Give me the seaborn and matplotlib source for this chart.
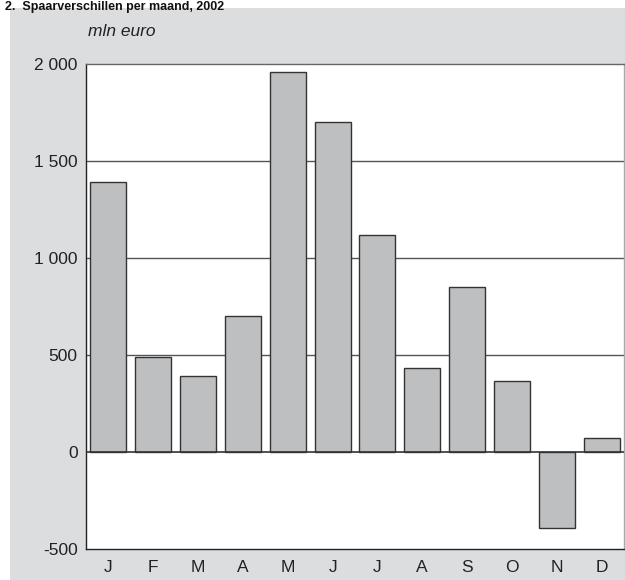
import matplotlib
matplotlib.use("Agg")
import matplotlib.pyplot as plt
import seaborn as sns
import pandas as pd
from matplotlib.patches import Rectangle

months = ["J", "F", "M", "A", "M", "J", "J", "A", "S", "O", "N", "D"]
values = [1390, 490, 390, 700, 1960, 1700, 1120, 435, 850, 365, -390, 70]
yticks = [-500, 0, 500, 1000, 1500, 2000]
ytick_labels = ["-500", "0", "500", "1 000", "1 500", "2 000"]

sns.set_theme(style="white")
plt.rcParams['font.family'] = ['Liberation Sans', 'DejaVu Sans']

df = pd.DataFrame({"pos": [str(i) for i in range(len(months))], "value": values})

fig = plt.figure(figsize=(6.25, 5.8), dpi=100)
fig.patch.set_facecolor("white")
# gray panel
panel = Rectangle((10/625, 0), 1 - 10/625, 1 - 8/580, transform=fig.transFigure,
                  facecolor="#DCDDDF", edgecolor="none", zorder=-10)
fig.patches.append(panel)

ax = fig.add_axes([86/625, 1 - 549/580, (624-86)/625, (549-64)/580])
ax.set_zorder(1)
ax.set_facecolor("white")
sns.barplot(data=df, x="pos", y="value", color="#BEBFC1", edgecolor="#333333",
            linewidth=1.0, width=0.8, saturation=1, ax=ax, zorder=3)
ax.set_xlim(-0.5, 11.5)
ax.set_ylim(-500, 2000)
ax.set_yticks(yticks)
ax.set_yticklabels(ytick_labels, fontsize=12.5, color="#222222")
ax.set_xticks(range(len(months)))
ax.set_xticklabels(months, fontsize=12.5, color="#222222")
ax.set_xlabel("")
ax.set_ylabel("")
ax.tick_params(axis="both", length=0, pad=6)
ax.tick_params(axis="x", pad=8)
for y in [500, 1000, 1500]:
    ax.axhline(y, color="#555555", linewidth=1.0, zorder=1)
ax.axhline(0, color="#333333", linewidth=1.2, zorder=4)
ax.spines["left"].set_color("#222222")
ax.spines["bottom"].set_color("#222222")
ax.spines["top"].set_color("#666666")
ax.spines["right"].set_color("#AAAAAA")
for s in ax.spines.values():
    s.set_linewidth(1.0)

fig.text(88/625, 1 - 32/580, "mln euro", fontsize=12.5, style="italic",
         color="#222222", va="center", ha="left")
fig.text(5/625, 1 - 1/580, "2.  Spaarverschillen per maand, 2002", fontsize=9,
         fontweight="bold", color="#111111", va="top", ha="left", zorder=5)

fig.savefig("out.png", dpi=100)
